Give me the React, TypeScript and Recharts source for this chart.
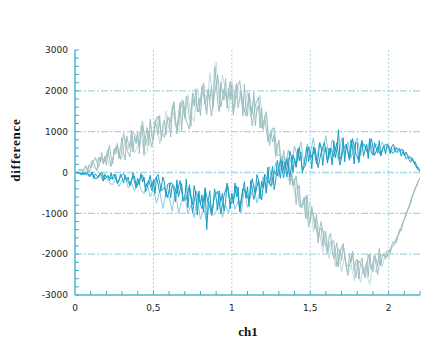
import { LineChart, Line, XAxis, YAxis, CartesianGrid } from 'recharts';

// sample spacing of the traces (ch1 units)
const STEP_FINE = 0.01;
const STEP_COARSE = 0.02;

// grey trace, fine samples 0 .. 2.2
const GRAY_DARK = [
  0, 0, 40, 80, 40, 20, 90, 170, 10, 190,
  100, 300, 220, 120, 40, 370, 270, 490, 220, 400,
  180, 500, 670, 370, 210, 590, 460, 710, 340, 630,
  860, 460, 310, 900, 710, 600, 1040, 500, 900, 710,
  1010, 470, 950, 1140, 450, 900, 1100, 660, 1310, 880,
  790, 1270, 1110, 920, 1400, 790, 1160, 1280, 920, 1360,
  1340, 870, 1490, 1700, 1230, 1080, 1420, 1720, 1030, 1640,
  1350, 1870, 1620, 1330, 1130, 1870, 1620, 2050, 1480, 1820,
  1390, 1950, 2190, 1670, 1420, 1980, 1770, 2100, 1580, 2600,
  2240, 1710, 1490, 2210, 1940, 1770, 2300, 1580, 2070, 1790,
  2150, 1410, 1980, 2190, 1590, 1800, 2000, 1380, 2160, 1550,
  1380, 1950, 1700, 1410, 1980, 1150, 1550, 1630, 1090, 1580,
  1060, 1390, 1470, 960, 660, 990, 750, 920, 430, 640,
  780, 290, 50, 540, 260, 50, 370, -300, -10, -320,
  -140, -780, -400, -310, -850, -750, -630, -1130, -550, -1060,
  -1210, -840, -1090, -1380, -1010, -1720, -1420, -1360, -1800, -1430,
  -1550, -1980, -1580, -1490, -1920, -2110, -1900, -1720, -2310, -1880,
  -2160, -1800, -2040, -2320, -2520, -1990, -2220, -1930, -2400, -2180,
  -2120, -2610, -2230, -2090, -2490, -2350, -2180, -2550, -1990, -2360,
  -2430, -2010, -2130, -2280, -1860, -2280, -2050, -1980, -2120, -1910,
  -1910, -1980, -1780, -1680, -1730, -1710, -1540, -1390, -1420, -1220,
  -1170, -990, -920, -850, -760, -570, -500, -360, -320, -190,
  -130,
];

// grey trace, in-between samples at 0.01, 0.03, ... 2.19
const GRAY_MID = [
  0, 70, 50, 160, 10, 200, 370, 130, 380, 260,
  560, 140, 500, 670, 320, 960, 570, 380, 980, 900,
  660, 1260, 660, 1020, 620, 1220, 1380, 980, 860, 1340,
  1230, 1740, 950, 1550, 1760, 1260, 1060, 1950, 1740, 1480,
  2120, 1660, 2050, 1380, 1920, 2390, 1600, 2050, 1740, 2230,
  1460, 2030, 2250, 1690, 1380, 1930, 1140, 1650, 1850, 1100,
  1320, 760, 1040, 1090, 420, 430, -10, 380, 100, -330,
  -90, -820, -860, -580, -1330, -890, -1200, -1590, -1200, -1640,
  -1970, -1690, -1670, -2300, -1940, -1740, -2290, -2280, -1970, -2580,
  -2160, -2290, -2580, -2010, -2380, -2030, -2500, -2010, -2040, -2060,
  -1860, -1790, -1610, -1460, -1230, -1060, -820, -590, -400, -200,
];

// grey trace, lighter overlay, coarse samples
const GRAY_LIGHT = [
  0, 30, 90, 20, 60, 250, 120, 90, 380, 200,
  420, 180, 300, 650, 400, 350, 820, 560, 900, 480,
  650, 1150, 400, 500, 1250, 820, 1350, 700, 950, 1500,
  1050, 1650, 1150, 1000, 1800, 1300, 1900, 1400, 1250, 2050,
  1650, 2200, 1500, 2450, 1750, 2700, 1700, 2400, 2000, 1500,
  2250, 1600, 2100, 1750, 1450, 2000, 1350, 1850, 1500, 1900,
  1000, 1500, 700, 1100, 350, 800, 200, 350, -200, 100,
  -550, -250, -850, -600, -1150, -700, -1450, -1100, -1500, -1950,
  -1450, -2100, -1700, -2300, -1850, -2450, -2050, -2500, -2250, -2650,
  -2150, -2700, -2300, -2500, -2750, -2250, -2450, -2050, -2300, -1950,
  -2100, -1850, -1750, -1550, -1400, -1150, -950, -720, -500, -310,
  -120,
];

// blue trace, fine samples
const BLUE_DARK = [
  0, -10, -6, -16, -50, 10, -55, -30, 0, -100,
  -80, 20, -140, -30, -80, -130, -10, -60, -210, -40,
  -130, -70, -200, -10, -170, -120, -50, -270, -210, -40,
  -130, -260, -70, -190, -110, -330, -230, -10, -110, -340,
  -150, -300, -30, -230, -110, -470, -370, -210, -70, -350,
  -180, -520, -120, -290, -490, -390, -110, -230, -600, -300,
  -260, -620, -310, -410, -720, -180, -600, -420, -270, -700,
  -630, -160, -860, -380, -580, -790, -320, -530, -1040, -450,
  -780, -550, -970, -370, -1400, -680, -450, -1050, -860, -400,
  -620, -920, -450, -710, -510, -950, -720, -260, -440, -890,
  -510, -760, -260, -600, -360, -960, -750, -470, -230, -630,
  -350, -830, -200, -410, -660, -500, -50, -180, -650, -210,
  -380, -120, -510, 130, -290, -110, 150, -420, -190, 300,
  100, -140, 280, 70, 260, -110, 100, 520, 380, 0,
  350, 130, 580, 290, 500, -10, 170, 410, 620, 270,
  510, 90, 630, 440, 210, 350, 720, 600, 170, 540,
  620, 230, 600, 500, 180, 780, 360, 570, 1050, 320,
  420, 850, 260, 690, 530, 370, 800, 630, 210, 740,
  720, 240, 630, 790, 400, 550, 690, 340, 830, 480,
  420, 730, 610, 470, 780, 410, 590, 650, 450, 670,
  630, 460, 640, 690, 540, 490, 550, 600, 400, 510,
  420, 500, 410, 320, 250, 350, 250, 260, 130, 120,
  20,
];

// blue trace, in-between samples at 0.01, 0.03, ... 2.19
const BLUE_MID = [
  0, -10, -50, 0, -70, -20, -160, -80, 10, -170,
  -80, -160, -40, -260, -100, -30, -190, -290, -80, -380,
  -180, -60, -360, -190, -440, -170, -50, -450, -360, -620,
  -240, -320, -520, -200, -700, -650, -300, -980, -450, -640,
  -890, -410, -760, -980, -590, -460, -1010, -570, -300, -780,
  -690, -330, -880, -400, -480, -710, -150, -530, -180, -670,
  -40, -210, -340, 40, -80, 320, -130, 320, -110, 430,
  130, 620, 60, 180, 630, 360, 600, 120, 500, 740,
  260, 600, 390, 730, 180, 560, 690, 300, 830, 470,
  280, 740, 650, 450, 830, 420, 610, 410, 660, 700,
  530, 470, 610, 520, 570, 340, 390, 350, 170, 50,
];

// blue trace, lighter overlay, coarse samples
const BLUE_LIGHT = [
  0, -20, -60, 10, -90, -40, -130, -160, -50, -210,
  -100, -260, -300, -120, -340, -200, -120, -380, -260, -450,
  -150, -420, -520, -250, -600, -400, -750, -450, -880, -500,
  -600, -950, -400, -1000, -700, -550, -1000, -800, -1100, -600,
  -1150, -900, -1200, -700, -1050, -950, -500, -1100, -800, -1000,
  -500, -900, -700, -1000, -400, -850, -600, -300, -750, -450,
  -100, -500, 150, -300, 250, -100, 400, 100, 550, 200,
  650, 350, 750, 200, 700, 450, 850, 300, 750, 500,
  900, 350, 800, 600, 300, 850, 450, 750, 350, 650,
  850, 400, 700, 500, 800, 450, 700, 550, 750, 500,
  680, 520, 640, 480, 560, 430, 440, 320, 270, 160,
  40,
];

const X_TICKS = [
  0, 0.1, 0.2, 0.3, 0.4, 0.5, 0.6, 0.7, 0.8, 0.9, 1, 1.1,
  1.2, 1.3, 1.4, 1.5, 1.6, 1.7, 1.8, 1.9, 2, 2.1, 2.2,
];
const Y_TICKS = [
  -3000, -2800, -2600, -2400, -2200, -2000, -1800, -1600, -1400, -1200, -1000,
  -800, -600, -400, -200, 0, 200, 400, 600, 800, 1000, 1200, 1400, 1600, 1800,
  2000, 2200, 2400, 2600, 2800, 3000,
];
const X_GRID = [0.5, 1, 1.5, 2];
const Y_GRID = [-2000, -1000, 0, 1000, 2000];

const toPoints = (values: number[], step: number, start = 0) =>
  values.map((y, i) => ({ x: Math.round((start + i * step) * 100) / 100, y }));

const grayDark = toPoints(GRAY_DARK, STEP_FINE);
const grayMid = toPoints(GRAY_MID, STEP_COARSE, 0.01);
const grayLight = toPoints(GRAY_LIGHT, STEP_COARSE);
const blueDark = toPoints(BLUE_DARK, STEP_FINE);
const blueMid = toPoints(BLUE_MID, STEP_COARSE, 0.01);
const blueLight = toPoints(BLUE_LIGHT, STEP_COARSE);

const fmtX = (v: number) =>
  Math.abs(v * 2 - Math.round(v * 2)) < 1e-6 ? String(v).replace('.', ',') : '';
const fmtY = (v: number) => (v % 1000 === 0 ? String(v) : '');
const blank = () => '';

const AXIS = '#7cc8da';
const TICK = '#3aaccb';
const GRID = '#a6d8e4';
const GRAY = '#9dbfc0';
const GRAY_PALE = '#c8dcdc';
const BLUE = '#1b9dc4';
const BLUE_PALE = '#86cde0';
const tickFont = { fontSize: 9, fontFamily: 'DejaVu Sans', fill: '#222' };
const titleFont = 'Liberation Serif';

export default function App() {
  return (
    <div style={{ position: 'absolute', left: 0, top: 0, width: 436, height: 341, background: '#fff' }}>
      <LineChart width={436} height={341} margin={{ top: 50, right: 16, bottom: 0, left: 0 }}>
        <CartesianGrid horizontal={false} verticalValues={X_GRID} stroke={GRID} strokeDasharray="2 2" />
        <CartesianGrid vertical={false} horizontalValues={Y_GRID} stroke={GRID} strokeDasharray="7 2 2 2" strokeWidth={1.3} />
        <XAxis
          dataKey="x"
          type="number"
          domain={[0, 2.2]}
          ticks={X_TICKS}
          tickFormatter={fmtX}
          height={46}
          tickSize={-4}
          tickMargin={14}
          interval={0}
          stroke={AXIS}
          strokeWidth={2}
          tickLine={{ stroke: TICK, strokeWidth: 1 }}
          tick={tickFont}
          allowDataOverflow
          label={{
            content: () => (
              <text x={248} y={336} textAnchor="middle" fontFamily={titleFont} fontWeight="bold" fontSize={13} fill="#111">
                ch1
              </text>
            ),
          }}
        />
        <XAxis
          xAxisId="top"
          orientation="top"
          dataKey="x"
          type="number"
          domain={[0, 2.2]}
          ticks={X_TICKS}
          tickFormatter={blank}
          height={0}
          tickSize={-4}
          interval={0}
          stroke={AXIS}
          strokeWidth={2}
          tickLine={{ stroke: TICK, strokeWidth: 1 }}
          allowDataOverflow
        />
        <YAxis
          type="number"
          domain={[-3000, 3000]}
          ticks={Y_TICKS}
          tickFormatter={fmtY}
          width={75}
          tickSize={-4}
          tickMargin={11}
          interval={0}
          stroke={AXIS}
          strokeWidth={2}
          tickLine={{ stroke: TICK, strokeWidth: 1 }}
          tick={tickFont}
          allowDataOverflow
          label={{
            content: () => (
              <text
                x={20}
                y={150}
                transform="rotate(-90 20 150)"
                textAnchor="middle"
                fontFamily={titleFont}
                fontWeight="bold"
                fontSize={13}
                letterSpacing={0.8}
                fill="#111"
              >
                difference
              </text>
            ),
          }}
        />
        <YAxis
          yAxisId="right"
          orientation="right"
          type="number"
          domain={[-3000, 3000]}
          ticks={Y_TICKS}
          tickFormatter={blank}
          width={0}
          tickSize={-4}
          interval={0}
          stroke={AXIS}
          strokeWidth={2}
          tickLine={{ stroke: TICK, strokeWidth: 1 }}
          allowDataOverflow
        />
        <Line data={grayLight} dataKey="y" stroke={GRAY_PALE} strokeWidth={1} dot={false} isAnimationActive={false} />
        <Line data={grayMid} dataKey="y" stroke={GRAY} strokeWidth={1} dot={false} isAnimationActive={false} />
        <Line data={grayDark} dataKey="y" stroke={GRAY} strokeWidth={1} dot={false} isAnimationActive={false} />
        <Line data={blueLight} dataKey="y" stroke={BLUE_PALE} strokeWidth={1} dot={false} isAnimationActive={false} />
        <Line data={blueMid} dataKey="y" stroke={BLUE} strokeWidth={1} dot={false} isAnimationActive={false} />
        <Line data={blueDark} dataKey="y" stroke={BLUE} strokeWidth={1} dot={false} isAnimationActive={false} />
      </LineChart>
    </div>
  );
}
